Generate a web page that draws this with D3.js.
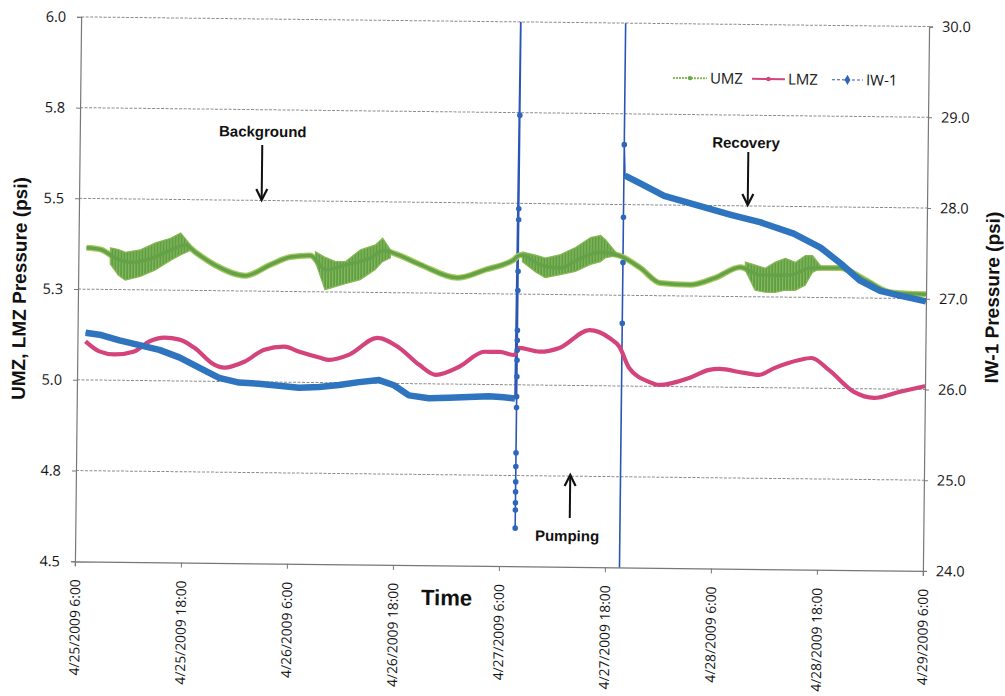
<!DOCTYPE html>
<html>
<head>
<meta charset="utf-8">
<script src="https://cdn.jsdelivr.net/npm/d3@7"></script>
<style>
  body { margin: 0; background: #fff; }
  svg { display: block; }
</style>
</head>
<body>
<div id="chart"></div>
<script>
// start of record, hours below are counted from here
const startTime = new Date(2009, 3, 25, 6, 0)
const endHour = 96

const leftTicks = [4.5, 4.75, 5.0, 5.25, 5.5, 5.75, 6.0]
const rightTicks = [24, 25, 26, 27, 28, 29, 30]
const timeTickHours = [0, 12, 24, 36, 48, 60, 72, 84, 96]

// UMZ (left axis) - centre line
const umzHours = [0.91, 2.49, 4.19, 5.89, 8.15, 10.42, 12.11, 13.25, 15.51, 18.91, 21.74, 24.0, 26.26, 27.96, 30.23, 33.06, 34.53, 35.89, 38.72, 42.91, 46.08, 49.25, 50.04, 52.3, 54.57, 56.83, 59.1, 61.36, 63.62, 65.89, 69.29, 72.12, 74.95, 77.21, 80.6, 82.87, 86.27, 89.1, 91.93, 96]
const umzValues = [5.364, 5.36, 5.337, 5.325, 5.336, 5.36, 5.375, 5.355, 5.32, 5.292, 5.323, 5.345, 5.35, 5.311, 5.325, 5.345, 5.366, 5.357, 5.328, 5.293, 5.316, 5.344, 5.358, 5.331, 5.323, 5.351, 5.368, 5.358, 5.326, 5.285, 5.281, 5.301, 5.331, 5.31, 5.311, 5.331, 5.332, 5.3, 5.267, 5.262]

// UMZ noisy stretches - low / high envelope (null = break between stretches)
const umzBandHours = [3.62, 4.53, 5.32, 7.02, 8.72, 10.42, 11.55, 12.68, null,
  26.83, 27.96, 29.1, 30.23, 31.93, 33.62, 34.42, 35.32, null,
  50.27, 51.74, 52.87, 54.57, 56.27, 57.96, 59.1, 59.66, 60.8, null,
  75.51, 76.64, 77.77, 78.91, 80.04, 81.17, 82.3, 83.1, 84.0]
const umzBandLo = [5.32, 5.29, 5.276, 5.287, 5.305, 5.332, 5.347, 5.36, null,
  5.333, 5.256, 5.265, 5.273, 5.285, 5.313, 5.335, 5.346, null,
  5.339, 5.312, 5.296, 5.305, 5.314, 5.334, 5.342, 5.353, 5.358, null,
  5.323, 5.268, 5.263, 5.263, 5.269, 5.269, 5.283, 5.319, 5.33]
const umzBandHi = [5.365, 5.36, 5.353, 5.36, 5.38, 5.393, 5.408, 5.375, null,
  5.36, 5.345, 5.334, 5.334, 5.367, 5.381, 5.40, 5.368, null,
  5.366, 5.358, 5.35, 5.36, 5.38, 5.408, 5.414, 5.402, 5.369, null,
  5.345, 5.337, 5.329, 5.346, 5.357, 5.346, 5.365, 5.365, 5.338]

// LMZ (left axis)
const lmzHours = [0.91, 2.49, 4.19, 6.45, 8.15, 9.85, 11.55, 13.25, 15.51, 16.64, 18.91, 21.17, 23.43, 25.13, 27.4, 28.53, 30.79, 33.96, 36.45, 38.72, 40.64, 43.25, 46.08, 47.78, 49.47, 50.04, 52.3, 54.57, 57.96, 60.23, 61.36, 62.49, 64.76, 65.89, 69.29, 71.55, 72.68, 75.51, 77.21, 78.91, 81.74, 83.1, 85.13, 87.97, 90.23, 93.06, 96]
const lmzValues = [5.106, 5.079, 5.071, 5.08, 5.108, 5.119, 5.114, 5.092, 5.046, 5.038, 5.055, 5.089, 5.098, 5.084, 5.069, 5.063, 5.078, 5.125, 5.098, 5.052, 5.025, 5.048, 5.09, 5.09, 5.082, 5.102, 5.092, 5.103, 5.153, 5.132, 5.108, 5.05, 5.012, 5.004, 5.024, 5.047, 5.05, 5.04, 5.035, 5.054, 5.077, 5.083, 5.05, 4.991, 4.975, 4.992, 5.009]

// IW-1 (right axis)
const iwPreHours = [0.91, 2.49, 4.75, 7.02, 9.28, 11.55, 13.81, 16.08, 18.34, 20.6, 24.0, 25.13, 27.4, 29.66, 31.93, 34.19, 35.89, 37.59, 39.85, 42.11, 44.38, 46.64, 48.34, 49.6]
const iwPreValues = [26.52, 26.50, 26.44, 26.39, 26.34, 26.26, 26.15, 26.04, 25.99, 25.98, 25.95, 25.94, 25.95, 25.975, 26.01, 26.035, 25.98, 25.87, 25.84, 25.85, 25.86, 25.87, 25.86, 25.85]
const pumpHour = 49.79
const iwPumpValues = [30.6, 28.97, 27.94, 27.82, 27.25, 27.04, 26.60, 26.49, 26.38, 26.27, 26.09, 25.87, 25.75, 25.25, 25.10, 24.93, 24.82, 24.70, 24.62, 24.42]
const recoveryHour = 61.65
const iwRecoveryValues = [23.0, 26.69, 27.36, 27.86, 30.6, 28.66]
const iwPostHours = [61.77, 63.62, 66.23, 70.42, 73.81, 77.21, 80.94, 84.0, 86.27, 88.53, 90.8, 93.06, 96]
const iwPostValues = [28.32, 28.23, 28.10, 27.99, 27.90, 27.82, 27.70, 27.55, 27.38, 27.19, 27.08, 27.03, 26.97]

const legendItems = ["UMZ", "LMZ", "IW-1"]

const width = 1005, height = 696
const plot = { left: 78, right: 926, top: 21.7, bottom: 566.1 }

const toDate = h => new Date(startTime.getTime() + h * 3600e3)

const x = d3.scaleTime()
  .domain([startTime, toDate(endHour)])
  .range([plot.left, plot.right])
const yL = d3.scaleLinear().domain([4.5, 6.0]).range([plot.bottom, plot.top])
const yR = d3.scaleLinear().domain([24, 30]).range([plot.bottom, plot.top])

const svg = d3.select("#chart").append("svg")
  .attr("width", width)
  .attr("height", height)
  .style("background", "#fff")

const defs = svg.append("defs")
defs.append("clipPath").attr("id", "plotclip")
  .append("rect")
  .attr("x", plot.left).attr("y", plot.top)
  .attr("width", plot.right - plot.left)
  .attr("height", plot.bottom - plot.top)

// spiky look of the noisy UMZ stretches
const hatch = defs.append("pattern")
  .attr("id", "umzhatch")
  .attr("patternUnits", "userSpaceOnUse")
  .attr("width", 3).attr("height", 6)
hatch.append("rect").attr("width", 3).attr("height", 6).attr("fill", "#8fbd58")
hatch.append("rect").attr("width", 2).attr("height", 6).attr("fill", "#5e9e48")

// the scanned original sits a little crooked
const g = svg.append("g").attr("transform", "rotate(0.65,502,294)")

const tickFont = "'Open Sans', 'Liberation Sans', sans-serif"
const boldFont = "'Liberation Sans', Arial, sans-serif"

// grid lines
g.append("g")
  .selectAll("line")
  .data(leftTicks.slice(1))
  .join("line")
  .attr("x1", plot.left).attr("x2", plot.right)
  .attr("y1", d => yL(d)).attr("y2", d => yL(d))
  .attr("stroke", "#8c8c8c")
  .attr("stroke-width", 1)
  .attr("stroke-dasharray", "3,1.5")

// axes
const axisL = g.append("g")
  .attr("transform", `translate(${plot.left},0)`)
  .call(d3.axisLeft(yL).tickValues(leftTicks).tickFormat(d3.format(".1f")).tickSize(4).tickPadding(11))
const axisR = g.append("g")
  .attr("transform", `translate(${plot.right},0)`)
  .call(d3.axisRight(yR).tickValues(rightTicks).tickFormat(d3.format(".1f")).tickSize(4).tickPadding(9))
const axisB = g.append("g")
  .attr("transform", `translate(0,${plot.bottom})`)
  .call(d3.axisBottom(x)
    .tickValues(timeTickHours.map(toDate))
    .tickFormat(d3.timeFormat("%-m/%-d/%Y %-H:%M"))
    .tickSize(5))

for (const ax of [axisL, axisR, axisB]) {
  ax.select(".domain").attr("stroke", "#777").attr("stroke-width", 1.2)
  ax.selectAll(".tick line").attr("stroke", "#777")
  ax.selectAll("text")
    .attr("fill", "#141414")
    .style("font-family", tickFont)
    .style("font-size", "14.5px")
}
axisB.selectAll("text")
  .attr("transform", "rotate(-90)")
  .attr("x", -18)
  .attr("y", 0)
  .attr("dy", "0.35em")
  .style("text-anchor", "end")
  .style("font-size", "13.8px")

// series
const area = g.append("g").attr("clip-path", "url(#plotclip)")

const umz = umzHours.map((h, i) => ({ h, v: umzValues[i] }))
const umzBand = umzBandHours.map((h, i) => ({ h, lo: umzBandLo[i], hi: umzBandHi[i] }))
const lmz = lmzHours.map((h, i) => ({ h, v: lmzValues[i] }))
const iwPre = iwPreHours.map((h, i) => ({ h, v: iwPreValues[i] }))
const iwPost = iwPostHours.map((h, i) => ({ h, v: iwPostValues[i] }))
const iwJump = [
  ...iwPumpValues.map(v => ({ h: pumpHour, v })),
  ...iwRecoveryValues.map(v => ({ h: recoveryHour, v }))
]
const iwAll = [
  ...iwPre,
  ...iwPumpValues.map(v => ({ h: pumpHour, v })),
  { h: (pumpHour + recoveryHour) / 2, v: null },
  ...iwRecoveryValues.map(v => ({ h: recoveryHour, v })),
  ...iwPost
]

const lineL = d3.line().curve(d3.curveMonotoneX).x(d => x(toDate(d.h))).y(d => yL(d.v))
const lineR = d3.line().defined(d => d.v != null).x(d => x(toDate(d.h))).y(d => yR(d.v))
const bandL = d3.area().defined(d => d.h != null)
  .x(d => x(toDate(d.h))).y0(d => yL(d.lo)).y1(d => yL(d.hi))

// IW-1 thin connecting line (pump / recovery jumps)
area.append("path")
  .datum(iwAll)
  .attr("d", lineR)
  .attr("fill", "none")
  .attr("stroke", "#2a55b3")
  .attr("stroke-width", 1.6)

// UMZ
area.append("path").datum(umz).attr("d", lineL)
  .attr("fill", "none").attr("stroke", "#a8c95c").attr("stroke-width", 6)
  .attr("stroke-linejoin", "round")
area.append("path").datum(umzBand).attr("d", bandL)
  .attr("fill", "url(#umzhatch)").attr("stroke", "#86b752").attr("stroke-width", 1.2)
area.append("path").datum(umz).attr("d", lineL)
  .attr("fill", "none").attr("stroke", "#64a24a").attr("stroke-width", 3.5)
  .attr("stroke-linejoin", "round")

// LMZ
area.append("path").datum(lmz).attr("d", lineL)
  .attr("fill", "none").attr("stroke", "#d4437b").attr("stroke-width", 4.2)
  .attr("stroke-linejoin", "round")

// IW-1 dense logging looks like a thick band
for (const seg of [iwPre, iwPost]) {
  area.append("path").datum(seg).attr("d", lineR)
    .attr("fill", "none").attr("stroke", "#2f74bf").attr("stroke-width", 6.5)
    .attr("stroke-linejoin", "round")
}
area.append("g")
  .selectAll("circle")
  .data(iwJump.filter(d => d.v >= 24 && d.v <= 30))
  .join("circle")
  .attr("cx", d => x(toDate(d.h)))
  .attr("cy", d => yR(d.v))
  .attr("r", 2.8)
  .attr("fill", "#2d66bb")

// legend
const legendX = [670.5, 749.5, 829.5]
const legend = g.append("g")
  .selectAll("g")
  .data(legendItems)
  .join("g")
  .attr("transform", (d, i) => `translate(${legendX[i]},76)`)
legend.each(function(d, i) {
  const el = d3.select(this)
  if (i === 0) {
    el.append("line").attr("x1", 0).attr("x2", 34).attr("stroke", "#86b85a").attr("stroke-width", 2).attr("stroke-dasharray", "2,1")
    el.append("circle").attr("cx", 17).attr("r", 2.2).attr("fill", "#6aa84a")
  } else if (i === 1) {
    el.append("line").attr("x1", 0).attr("x2", 33).attr("stroke", "#d4437b").attr("stroke-width", 2)
    el.append("circle").attr("cx", 16.5).attr("r", 2.2).attr("fill", "#d4437b")
  } else {
    el.append("line").attr("x1", 0).attr("x2", 31).attr("stroke", "#2a55b3").attr("stroke-width", 1).attr("stroke-dasharray", "3,2")
    el.append("path").attr("d", d3.symbol(d3.symbolDiamond, 30)).attr("transform", "translate(15.5,0)").attr("fill", "#2d66bb")
  }
  el.append("text")
    .attr("x", i === 2 ? 34 : (i === 1 ? 36 : 37))
    .attr("dy", "0.35em")
    .attr("fill", "#141414")
    .style("font-family", tickFont)
    .style("font-size", "15px")
    .text(d)
})

// annotations
const notes = [
  { text: "Background", tx: 261, ty: 139.5, ax: 260.6, a0: 147.7, a1: 202.7 },
  { text: "Recovery", tx: 744.3, ty: 145.2, ax: 746.7, a0: 149.2, a1: 202.2 },
  { text: "Pumping", tx: 569.8, ty: 540.3, ax: 572.3, a0: 517.2, a1: 474.2 }
]
const note = g.append("g").selectAll("g").data(notes).join("g")
note.append("text")
  .attr("x", d => d.tx).attr("y", d => d.ty)
  .attr("text-anchor", "middle")
  .attr("fill", "#111")
  .style("font-family", boldFont)
  .style("font-weight", "bold")
  .style("font-size", "15px")
  .text(d => d.text)
note.append("line")
  .attr("x1", d => d.ax).attr("x2", d => d.ax)
  .attr("y1", d => d.a0).attr("y2", d => d.a1)
  .attr("stroke", "#111").attr("stroke-width", 2)
note.append("path")
  .attr("d", d => {
    const dir = d.a1 > d.a0 ? 1 : -1
    return `M${d.ax - 5.5},${d.a1 - dir * 11}L${d.ax},${d.a1}L${d.ax + 5.5},${d.a1 - dir * 11}`
  })
  .attr("fill", "none").attr("stroke", "#111").attr("stroke-width", 2.2)

// axis titles
g.append("text")
  .attr("transform", "translate(26,294) rotate(-90)")
  .attr("text-anchor", "middle")
  .attr("fill", "#111")
  .style("font-family", boldFont).style("font-weight", "bold").style("font-size", "19px")
  .text("UMZ, LMZ Pressure (psi)")
g.append("text")
  .attr("transform", "translate(999,292) rotate(-90)")
  .attr("text-anchor", "middle")
  .attr("fill", "#111")
  .style("font-family", boldFont).style("font-weight", "bold").style("font-size", "19px")
  .text("IW-1 Pressure (psi)")
g.append("text")
  .attr("x", 450).attr("y", 606)
  .attr("text-anchor", "middle")
  .attr("fill", "#111")
  .style("font-family", "'Liberation Sans Narrow', 'Liberation Sans', sans-serif")
  .style("font-weight", "bold").style("font-size", "22px")
  .text("Time")
</script>
</body>
</html>
